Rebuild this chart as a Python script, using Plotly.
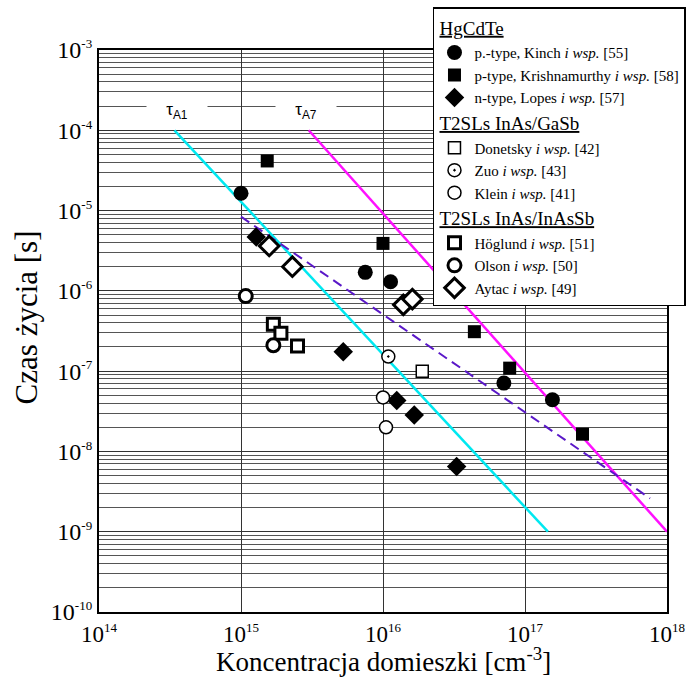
import math
import plotly.graph_objects as go

# ---------------- data ----------------
# HgCdTe
kinch_n = [1.0e15, 7.5e15, 1.13e16, 7.1e16, 1.56e17]
kinch_t = [1.64e-5, 1.7e-6, 1.3e-6, 7.1e-8, 4.4e-8]
krish_n = [1.53e15, 1.0e16, 4.4e16, 7.8e16, 2.54e17]
krish_t = [4.15e-5, 3.9e-6, 3.1e-7, 1.09e-7, 1.64e-8]
lopes_n = [1.28e15, 5.25e15, 1.25e16, 1.66e16, 3.3e16]
lopes_t = [4.7e-6, 1.75e-7, 4.3e-8, 2.85e-8, 6.5e-9]
# T2SLs InAs/GaSb
donetsky_n = [1.89e16]
donetsky_t = [1.0e-7]
zuo_n = [1.09e16]
zuo_t = [1.52e-7]
klein_n = [1.0e16, 1.05e16]
klein_t = [4.7e-8, 2.0e-8]
# T2SLs InAs/InAsSb
hoglund_n = [1.69e15, 1.91e15, 2.5e15]
hoglund_t = [3.84e-7, 2.96e-7, 2.06e-7]
olson_n = [1.08e15, 1.69e15]
olson_t = [8.6e-7, 2.1e-7]
aytac_n = [1.58e15, 2.3e15, 1.39e16, 1.61e16]
aytac_t = [3.62e-6, 2.0e-6, 6.7e-7, 7.9e-7]

# Auger lifetime lines
tauA1_n = [3.4e14, 1.45e17]
tauA1_t = [1e-4, 1e-9]
tauA7_n = [3.0e15, 1.0e18]
tauA7_t = [1e-4, 1e-9]
dash_n = [1.0e15, 7.6e17]
dash_t = [8.4e-6, 2.6e-9]

tau_labels = ["τ<sub>A1</sub>", "τ<sub>A7</sub>"]
tau_label_n = [3.52e14, 2.89e15]
tau_label_t = 2e-4

x_ticks = [1e14, 1e15, 1e16, 1e17, 1e18]
x_tick_exp = ["14", "15", "16", "17", "18"]
y_ticks = [1e-3, 1e-4, 1e-5, 1e-6, 1e-7, 1e-8, 1e-9, 1e-10]
y_tick_exp = ["-3", "-4", "-5", "-6", "-7", "-8", "-9", "-10"]

SERIF = "'Liberation Serif', 'Times New Roman', Tinos, serif"
SANS = "'Liberation Sans', Arial, sans-serif"


def sup_label(e):
    return "10<sup><span style='font-size:13px'>" + e + "</span></sup>"


fig = go.Figure()

# lines
fig.add_trace(go.Scatter(x=tauA1_n, y=tauA1_t, mode="lines",
                         line=dict(color="#00e8f0", width=2.5), showlegend=False))
fig.add_trace(go.Scatter(x=tauA7_n, y=tauA7_t, mode="lines",
                         line=dict(color="#ff10ff", width=2.5), showlegend=False))
fig.add_trace(go.Scatter(x=dash_n, y=dash_t, mode="lines",
                         line=dict(color="#5a18c8", width=2, dash="10px,6px"),
                         showlegend=False))

G1 = "<span style='text-decoration:underline'>HgCdTe</span>"
G2 = "<span style='text-decoration:underline'>T2SLs InAs/GaSb</span>"
G3 = "<span style='text-decoration:underline'>T2SLs InAs/InAsSb</span>"
GT = dict(size=19, family=SERIF, color="black")


def add(xs, ys, name, symbol, size, color, lw, group, gtitle=None):
    tr = dict(x=xs, y=ys, mode="markers", name=name, legendgroup=group,
              marker=dict(symbol=symbol, size=size, color=color,
                          line=dict(color="black", width=lw)))
    if gtitle:
        tr["legendgrouptitle"] = dict(text=gtitle, font=GT)
    fig.add_trace(go.Scatter(**tr))


add(kinch_n, kinch_t, "p.-type, Kinch <i>i wsp.</i> [55]", "circle", 15, "black", 0, "g1", G1)
add(krish_n, krish_t, "p-type, Krishnamurthy <i>i wsp.</i> [58]", "square", 13, "black", 0, "g1")
add(lopes_n, lopes_t, "n-type, Lopes <i>i wsp.</i> [57]", "diamond", 15, "black", 0, "g1")
add(donetsky_n, donetsky_t, "Donetsky <i>i wsp.</i> [42]", "square", 12, "white", 1.5, "g2", G2)
add(zuo_n, zuo_t, "Zuo <i>i wsp.</i> [43]", "circle-dot", 13, "white", 1.5, "g2")
add(klein_n, klein_t, "Klein <i>i wsp.</i> [41]", "circle", 13, "white", 1.5, "g2")
add(hoglund_n, hoglund_t, "Höglund <i>i wsp.</i> [51]", "square", 12, "white", 3, "g3", G3)
add(olson_n, olson_t, "Olson <i>i wsp.</i> [50]", "circle", 13, "white", 3, "g3")
add(aytac_n, aytac_t, "Aytac <i>i wsp.</i> [49]", "diamond", 15, "white", 3, "g3")

minor_vals = [m * 10.0 ** e for e in range(-10, -3) for m in range(2, 10)]

for lab, xn in zip(tau_labels, tau_label_n):
    fig.add_annotation(x=math.log10(xn), y=math.log10(tau_label_t), text=lab,
                       showarrow=False, bgcolor="white", width=58, height=22,
                       yshift=-5, font=dict(family=SANS, size=17, color="black"))

# axis titles placed as annotations
fig.add_annotation(xref="paper", yref="paper", x=-0.126, y=0.525,
                   xanchor="center", yanchor="middle", textangle=-90,
                   text="Czas życia [s]", showarrow=False,
                   font=dict(family=SERIF, size=31, color="black"))
fig.add_annotation(xref="paper", yref="paper", x=0.5, y=-0.0854,
                   xanchor="center", yanchor="middle",
                   text="Koncentracja domieszki [cm<sup>-3</sup>]", showarrow=False,
                   font=dict(family=SERIF, size=27, color="black"))

fig.update_layout(
    width=689, height=678,
    margin=dict(l=99, r=22, t=50, b=66, autoexpand=False),
    paper_bgcolor="white", plot_bgcolor="white",
    font=dict(family=SERIF, color="black"),
    xaxis=dict(type="log", range=[14, 18], tickvals=x_ticks,
               ticktext=[sup_label(e) for e in x_tick_exp],
               tickfont=dict(family=SERIF, size=23), ticks="",
               showgrid=True, gridcolor="#333", gridwidth=1,
               showline=True, linecolor="black", linewidth=2, mirror=True,
               zeroline=False),
    yaxis=dict(type="log", range=[-10, -3], tickvals=y_ticks,
               ticktext=[sup_label(e) for e in y_tick_exp],
               tickfont=dict(family=SERIF, size=24), ticks="",
               showgrid=True, gridcolor="#333", gridwidth=1,
               minor=dict(tickvals=minor_vals, showgrid=True, gridcolor="#555",
                          gridwidth=1, ticks=""),
               showline=True, linecolor="black", linewidth=2, mirror=True,
               zeroline=False),
    legend=dict(x=0.588, y=1.0765, xanchor="left", yanchor="top",
                bgcolor="white", bordercolor="black", borderwidth=1.5,
                font=dict(family=SERIF, size=15, color="black"),
                traceorder="grouped", tracegroupgap=0, itemsizing="trace"),
)

fig.write_html("out.html")
